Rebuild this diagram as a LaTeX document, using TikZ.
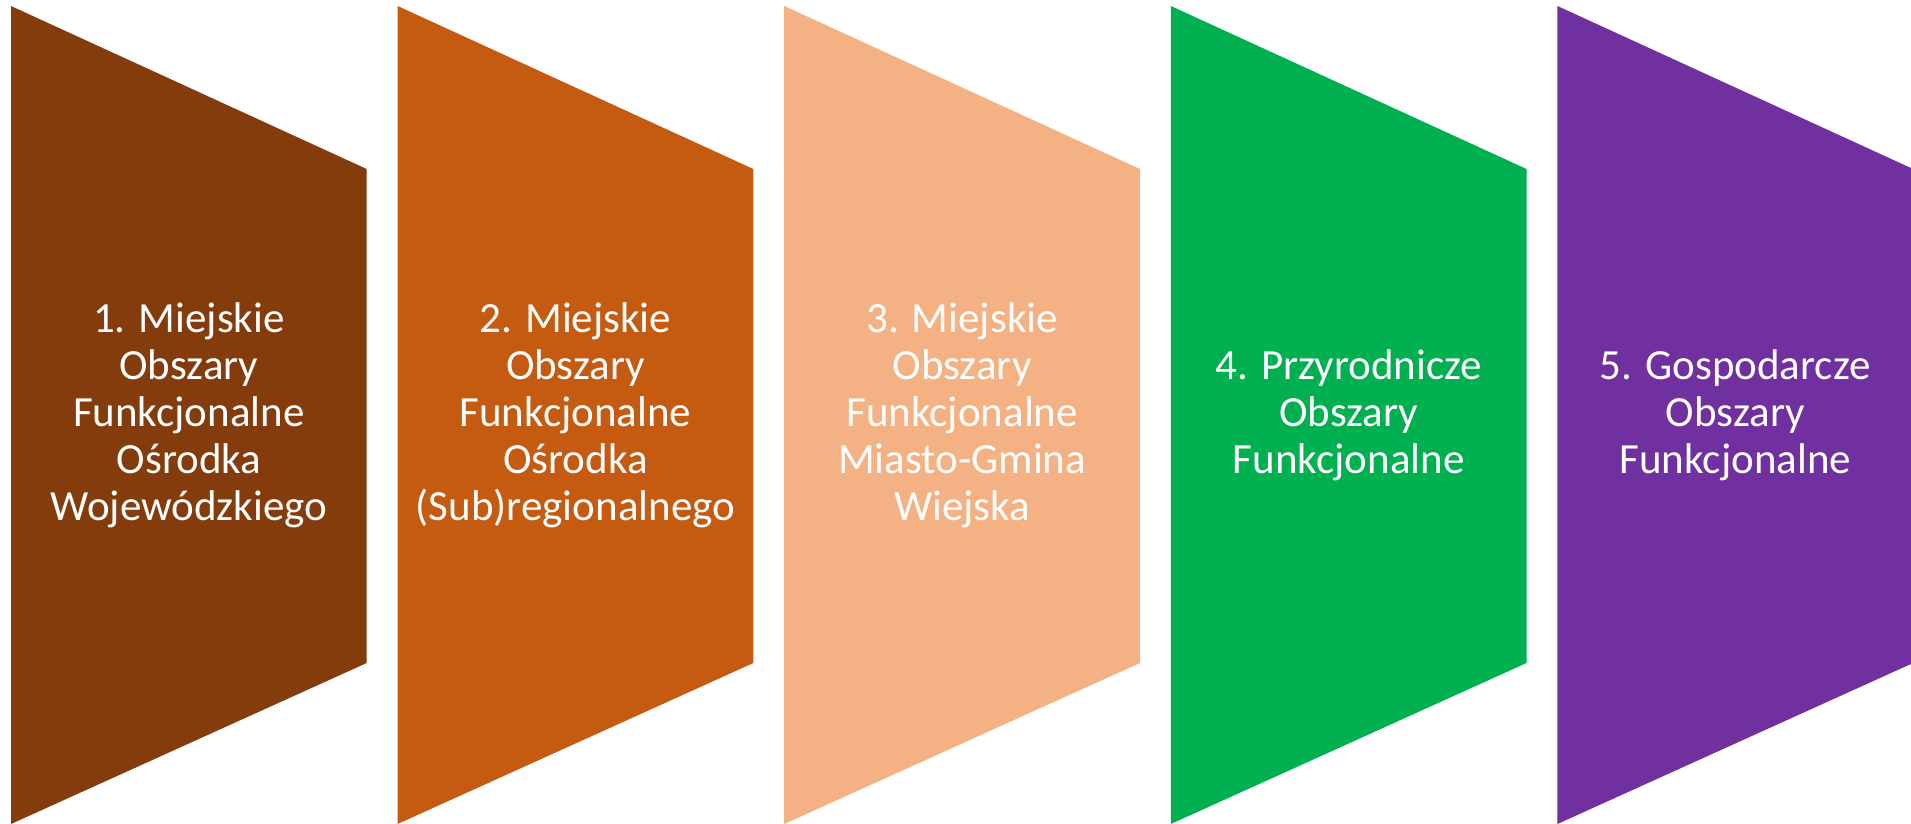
\documentclass[tikz,border=0pt]{standalone}
\usepackage{fontspec}
\setmainfont{Carlito}
\definecolor{c1}{HTML}{843C0C}
\definecolor{c2}{HTML}{C55A11}
\definecolor{c3}{HTML}{F4B183}
\definecolor{c4}{HTML}{00B050}
\definecolor{c5}{HTML}{7030A0}
\tikzset{
  lbl/.style={text=white, align=center, font=\fontsize{43}{47}\selectfont, inner sep=0pt},
}
\newcommand{\chev}[2]{%
  \fill[#2] (#1,6) -- (#1+355.7,169) -- (#1+355.7,663) -- (#1,824) -- cycle;}
\begin{document}
\begin{tikzpicture}[x=1pt,y=-1pt]
\useasboundingbox (0,0) rectangle (1911,824);
\begin{scope}
\clip (0,0) rectangle (1911,824);
\chev{11}{c1}
\chev{397.6}{c2}
\chev{784.2}{c3}
\chev{1170.8}{c4}
\chev{1557.4}{c5}
\end{scope}
\node[lbl] (t1) at (188.9,415) {1. Miejskie\\Obszary\\Funkcjonalne\\Ośrodka\\Wojewódzkiego};
\node[lbl] (t2) at (575.5,415) {2. Miejskie\\Obszary\\Funkcjonalne\\Ośrodka\\(Sub)regionalnego};
\node[lbl] (t3) at (962.1,415) {3. Miejskie\\Obszary\\Funkcjonalne\\Miasto-Gmina\\Wiejska};
\node[lbl] (t4) at (1348.7,415) {4. Przyrodnicze\\Obszary\\Funkcjonalne};
\node[lbl] (t5) at (1735.3,415) {5. Gospodarcze\\Obszary\\Funkcjonalne};
\end{tikzpicture}
\end{document}
